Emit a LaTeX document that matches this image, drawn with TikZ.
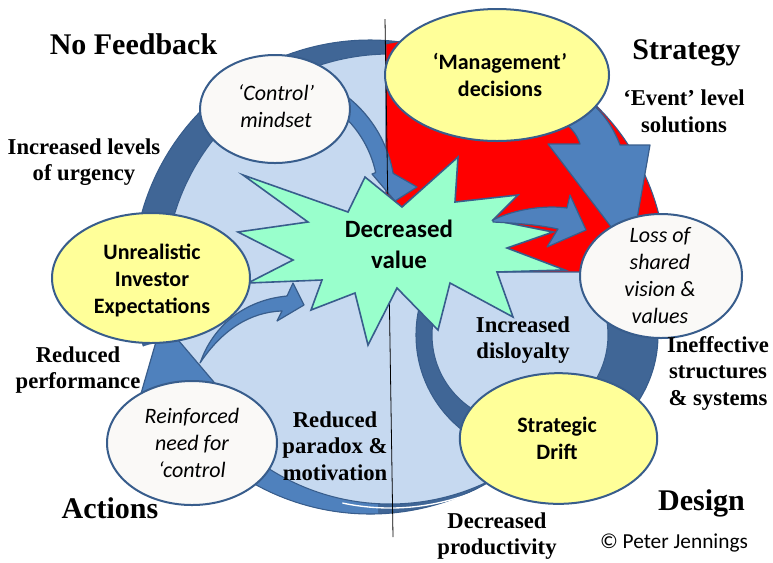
\documentclass[tikz,border=0pt]{standalone}
\usepackage{fontspec}
\setmainfont{Liberation Serif}
\newfontfamily\carlito{Carlito}
\usetikzlibrary{shapes.geometric}

\definecolor{ringblue}{RGB}{64,102,150}
\definecolor{arrowblue}{RGB}{79,129,189}
\definecolor{edgeblue}{RGB}{56,93,140}
\definecolor{lightblue}{RGB}{198,217,240}
\definecolor{mint}{RGB}{153,255,204}
\definecolor{paleyellow}{RGB}{255,255,153}
\definecolor{offwhite}{RGB}{250,249,247}

\tikzset{
  bubble/.style={ellipse, draw=edgeblue, line width=1.5pt, inner sep=0pt},
  yellowbubble/.style={bubble, fill=paleyellow},
  whitebubble/.style={bubble, fill=offwhite},
  softtext/.style={align=center, inner sep=0pt, font=\carlito\itshape\fontsize{16.5}{20.25}\selectfont},
  strongtext/.style={align=center, inner sep=0pt, font=\carlito\bfseries\fontsize{16.5}{20.25}\selectfont},
  sidelabel/.style={align=center, inner sep=0pt, font=\bfseries\fontsize{17}{19.9}\selectfont},
  cornerlabel/.style={anchor=base, inner sep=0pt, font=\bfseries\fontsize{22.5}{27}\selectfont},
  blockarrow/.style={fill=arrowblue, draw=edgeblue, line width=0.9pt, line join=round}
}

\begin{document}
\begin{tikzpicture}[x=0.75pt, y=0.75pt]
  \useasboundingbox (0,0) rectangle (773,-562);

  %% big ring and disc
  \fill[ringblue] (370,-277) -- ([shift={(370,-277)}]225:237) arc[start angle=225, end angle=557, radius=237] -- cycle;
  \begin{scope}
    \clip (370,-277) -- ([shift={(370,-277)}]222:260) arc[start angle=222, end angle=272, radius=260] -- cycle;
    \fill[arrowblue] (370,-277) circle (237);
  \end{scope}
  \draw[edgeblue, line width=0.8pt] ([shift={(370,-277)}]222:237) arc[start angle=222, end angle=557, radius=237];
  \filldraw[fill=lightblue, draw=edgeblue, line width=0.8pt] (390,-279) circle (225);
  \draw[white, line width=1pt] ([shift={(390,-279)}]258:229) arc[start angle=258, end angle=296, radius=229];

  %% small ring on the right
  \filldraw[fill=ringblue, draw=edgeblue, line width=0.8pt] (537,-335) circle (121);
  \filldraw[fill=lightblue, draw=edgeblue, line width=0.8pt] (520,-335) circle (88);

  %% red quarter
  \filldraw[fill=red, draw=edgeblue, line width=0.8pt] (386,-272) -- (385.8,-43.8) arc[start angle=101.7, end angle=0, radius=233] -- cycle;

  %% arrows
  \draw[blockarrow] (138,-404) -- (162,-321) -- (230,-401) -- cycle;
  \draw[blockarrow] (202,-358) .. controls (215,-325) and (245,-300) .. (287,-296)
    -- (293,-283) -- (304,-305) -- (277,-321) -- (282,-311)
    .. controls (250,-312) and (222,-330) .. (200,-363) -- cycle;
  \draw[blockarrow] ([shift={(270,-195)}]65:125) arc[start angle=65, end angle=10, radius=125]
    -- (417,-187) -- (395,-201) -- (372,-174)
    -- ([shift={(270,-195)}]12:108) arc[start angle=12, end angle=65, radius=108] -- cycle;
  \draw[blockarrow] (555,-115) .. controls (568,-124) and (577,-133) .. (580,-144)
    -- (548,-144) -- (631,-253) -- (650,-145) -- (620,-145)
    .. controls (612,-124) and (598,-105) .. (578,-94) -- cycle;

  \draw[line width=0.6pt] (385,-19) -- (393,-537);

  %% star
  \filldraw[fill=mint, draw=edgeblue, line width=1.2pt, line join=miter]
    (243,-175) -- (348,-212) -- (365,-177) -- (402,-207) -- (458,-157) -- (455,-202)
    -- (518,-195) -- (493,-220) -- (553,-232) -- (507,-248) -- (565,-270) -- (497,-272)
    -- (513,-317) -- (450,-283) -- (438,-330) -- (397,-288) -- (368,-345) -- (355,-293)
    -- (311,-310) -- (322,-280) -- (248,-283) -- (293,-260) -- (238,-232) -- (308,-222) -- cycle;
  \node[font=\carlito\bfseries\fontsize{18.7}{23.25}\selectfont, align=center, inner sep=0pt] (value) at (399,-244.5) {Decreased\\value};

  \draw[blockarrow] (493,-220) .. controls (515,-209) and (545,-205) .. (567,-208)
    -- (570,-195) -- (586,-230) -- (547,-247) -- (558,-229)
    .. controls (535,-224) and (512,-223) .. (493,-222) -- cycle;

  %% bubbles
  \node[whitebubble, minimum width=112.5pt, minimum height=81pt] (control) at (275,-109) {};
  \node[yellowbubble, minimum width=168pt, minimum height=99pt] (mgmt) at (497,-75) {};
  \node[yellowbubble, minimum width=148.5pt, minimum height=97.5pt] (investor) at (151,-278) {};
  \node[whitebubble, minimum width=121.5pt, minimum height=93pt] (loss) at (661,-276) {};
  \node[whitebubble, minimum width=127.5pt, minimum height=93pt] (reinforced) at (192,-443) {};
  \node[yellowbubble, minimum width=148pt, minimum height=98pt] (drift) at (558.5,-438.5) {};

  \node[softtext] (controltxt) at (276,-106.5) {‘Control’\\mindset};
  \node[strongtext] (mgmttxt) at (500,-74.5) {‘Management’\\decisions};
  \node[strongtext] (investortxt) at (152,-280) {Unrealistic\\Investor\\Expectations};
  \node[softtext] (losstxt) at (660,-276) {Loss of\\shared\\vision \&\\values};
  \node[softtext] (reinforcedtxt) at (192,-443) {Reinforced\\need for\\‘control};
  \node[strongtext] (drifttxt) at (557,-438) {Strategic\\Drift};

  %% labels
  \node[cornerlabel] (nofeed) at (133.5,-54) {No Feedback};
  \node[cornerlabel] (strategy) at (686.5,-59) {Strategy};
  \node[cornerlabel] (actions) at (110,-518) {Actions};
  \node[cornerlabel] (design) at (701.5,-510) {Design};
  \node[sidelabel] (urgency) at (84,-162) {Increased levels\\of urgency};
  \node[sidelabel] (eventlvl) at (684,-111) {‘Event’ level\\solutions};
  \node[sidelabel] (perf) at (78,-370) {Reduced\\performance};
  \node[sidelabel] (paradox) at (335,-446) {Reduced\\paradox \&\\motivation};
  \node[sidelabel] (disloyal) at (523,-340) {Increased\\disloyalty};
  \node[sidelabel] (structs) at (718,-373) {Ineffective\\structures\\\& systems};
  \node[sidelabel] (product) at (497,-536) {Decreased\\productivity};
  \node[anchor=base, inner sep=0pt, font=\carlito\fontsize{16}{19}\selectfont] (copy) at (674,-548) {© Peter Jennings};
\end{tikzpicture}
\end{document}
